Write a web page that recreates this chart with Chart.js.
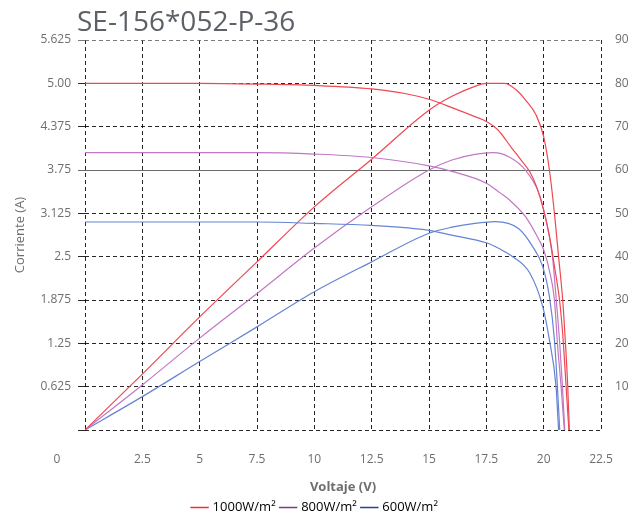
<!DOCTYPE html>
<html>
<head>
<meta charset="utf-8">
<script src="https://cdn.jsdelivr.net/npm/chart.js@4.4.1/dist/chart.umd.min.js"></script>
<style>
  html, body { margin: 0; padding: 0; background: #ffffff; }
  #wrap { position: relative; width: 631px; height: 518px; }
  #title { position: absolute; left: 77px; top: 1px; font-family: "Open Sans", sans-serif; font-size: 28px; color: #5d6167; line-height: normal; white-space: nowrap; }
  canvas { position: absolute; left: 0; top: 0; }
</style>
</head>
<body>
<div id="wrap">
  <canvas id="c" width="631" height="518"></canvas>
  <div id="title">SE-156*052-P-36</div>
</div>
<script>
// ---- Data ----
const seriesNames = ['1000W/m²', '800W/m²', '600W/m²'];

// I-V curves (left axis, Corriente A)
const ivVolt1000 = [0, 2.5, 5, 7.5, 10, 12.5, 14, 15, 16, 17, 17.5, 18, 18.6, 19, 19.4, 19.7, 20, 20.25, 20.5, 20.7, 20.85, 20.98, 21.05, 21.1];
const ivCurr1000 = [5.0, 5.0, 5.0, 4.99, 4.97, 4.92, 4.85, 4.77, 4.65, 4.52, 4.45, 4.33, 4.07, 3.9, 3.72, 3.5, 3.17, 2.8, 2.3, 1.85, 1.3, 0.62, 0.25, 0];

const ivVolt800 = [0, 5, 7.5, 10, 12.5, 15, 16, 17.5, 18.1, 18.5, 19.2, 19.8, 20, 20.25, 20.47, 20.6, 20.76, 20.9];
const ivCurr800 = [4.0, 4.0, 4.0, 3.98, 3.93, 3.81, 3.73, 3.56, 3.42, 3.32, 3.08, 2.74, 2.6, 2.3, 1.875, 1.25, 0.625, 0];

const ivVolt600 = [0, 5, 7.5, 10, 12.5, 15, 16, 17.5, 18.1, 18.65, 19.4, 19.96, 20.25, 20.54, 20.65];
const ivCurr600 = [3.0, 3.0, 3.0, 2.98, 2.95, 2.88, 2.81, 2.70, 2.61, 2.5, 2.26, 1.78, 1.3, 0.625, 0];

// P-V curves (right axis, W)
const pvVolt1000 = [0, 2.5, 5, 7.5, 10, 12.5, 15, 16, 17, 17.5, 18, 18.3, 18.8, 19.2, 19.67, 20, 20.25, 20.47, 20.65, 20.83, 20.95, 21.05, 21.12];
const pvPow1000 = [0, 12.9, 26.1, 38.8, 51.5, 62.5, 73.8, 77, 79.3, 80, 80, 80, 78.5, 76.2, 72.7, 67.7, 60, 50, 40, 30, 20, 10, 0];

const pvVolt800 = [0, 2.5, 5, 7.5, 10, 12.5, 15, 16, 17, 17.8, 18.5, 19.2, 19.8, 20, 20.25, 20.4, 20.55, 20.7, 20.82, 20.92];
const pvPow800 = [0, 10.4, 21.2, 31.5, 42, 51.5, 60, 62.3, 63.6, 64, 63, 60, 54.6, 50.8, 44.6, 39.2, 30, 20, 10, 0];

const pvVolt600 = [0, 2.5, 5, 7.5, 10, 12.5, 15, 16, 17, 17.9, 18.9, 19.5, 19.96, 20.25, 20.47, 20.6, 20.7];
const pvPow600 = [0, 7.7, 15.8, 23.8, 31.9, 38.8, 45.4, 46.8, 47.7, 48.1, 46.5, 42.5, 37.7, 30.8, 20.8, 10, 0];

// Tick labels
const xTickLabels = ['0', '2.5', '5', '7.5', '10', '12.5', '15', '17.5', '20', '22.5'];
const currentTickLabels = ['', '0.625', '1.25', '1.875', '2.5', '3.125', '3.75', '4.375', '5.00', '5.625'];
const powerTickLabels = ['', '10', '20', '30', '40', '50', '60', '70', '80', '90'];

// ---- Build ----
const colors = ['#f04852', '#c078c4', '#6684d2'];
const legendColors = ['#e8303a', '#7e3a8e', '#2a3ea0'];

function pts(xs, ys) { return xs.map((x, i) => ({ x: x, y: ys[i] })); }

const ivSets = [[ivVolt1000, ivCurr1000], [ivVolt800, ivCurr800], [ivVolt600, ivCurr600]];
const pvSets = [[pvVolt1000, pvPow1000], [pvVolt800, pvPow800], [pvVolt600, pvPow600]];

const datasets = [];
ivSets.forEach((s, i) => datasets.push({
  label: seriesNames[i], data: pts(s[0], s[1]), yAxisID: 'y',
  borderColor: colors[i], backgroundColor: legendColors[i], borderWidth: 1.2, pointRadius: 0,
  cubicInterpolationMode: 'monotone', fill: false
}));
pvSets.forEach((s, i) => datasets.push({
  label: seriesNames[i] + ' P', data: pts(s[0], s[1]), yAxisID: 'y1',
  borderColor: colors[i], backgroundColor: legendColors[i], borderWidth: 1.2, pointRadius: 0,
  cubicInterpolationMode: 'monotone', fill: false
}));

const zeroLabel = {
  id: 'zeroLabel',
  afterDraw(chart) {
    const ctx = chart.ctx;
    ctx.save();
    ctx.font = '12px "Open Sans"';
    ctx.fillStyle = '#6e6e6e';
    ctx.textAlign = 'center';
    ctx.textBaseline = 'middle';
    ctx.fillText(xTickLabels[0], 57, chart.chartArea.bottom + 30);
    ctx.restore();
  }
};

Chart.defaults.font.family = '"Open Sans", sans-serif';
Chart.defaults.color = '#6e6e6e';

new Chart(document.getElementById('c'), {
  type: 'line',
  data: { datasets: datasets },
  plugins: [zeroLabel],
  options: {
    responsive: false,
    animation: false,
    layout: { padding: { top: 40, left: 0, right: 0, bottom: -6 } },
    plugins: {
      title: { display: false },
      tooltip: { enabled: false },
      legend: {
        position: 'bottom',
        labels: {
          filter: (item) => item.datasetIndex < 3,
          usePointStyle: true, pointStyle: 'line', boxWidth: 32, padding: 6,
          font: { size: 13 }, color: '#6e6e6e',
          generateLabels: (chart) => seriesNames.map((n, i) => ({
            text: n, strokeStyle: legendColors[i], fillStyle: legendColors[i],
            lineWidth: 1.5, pointStyle: 'line', datasetIndex: i, hidden: false
          }))
        }
      }
    },
    scales: {
      x: {
        type: 'linear', min: 0, max: 22.5,
        afterFit: (s) => { s.height = 65; },
        ticks: { stepSize: 2.5, padding: 2, font: { size: 12 }, color: '#6e6e6e',
          callback: (v, i) => (i === 0 ? '' : xTickLabels[i]) },
        grid: { color: 'rgba(0,0,0,0.85)', lineWidth: 1, tickLength: 20, drawTicks: true, tickColor: 'rgba(0,0,0,0)' },
        border: { display: false, dash: [4, 3] },
        title: { display: true, text: 'Voltaje (V)', font: { size: 13, weight: 'bold' }, color: '#6e6e6e', padding: { top: 8, bottom: 0 } }
      },
      y: {
        position: 'left', min: 0, max: 5.625,
        afterFit: (s) => { s.width = 85; },
        ticks: { stepSize: 0.625, padding: 7, font: { size: 12 }, color: '#6e6e6e',
          callback: (v, i) => currentTickLabels[i] },
        grid: {
          color: (ctx) => (ctx.index === 6 ? '#6a6a6a' : (ctx.index === 9 ? 'rgba(90,90,90,0.8)' : 'rgba(0,0,0,0.85)')),
          lineWidth: 1, tickLength: 7
        },
        border: { display: false, dash: (ctx) => (ctx.index === 6 ? [] : [4, 3]) },
        title: { display: true, text: 'Corriente (A)', font: { size: 13 }, color: '#6e6e6e', padding: { top: 12, bottom: 0 } }
      },
      y1: {
        position: 'right', min: 0, max: 90,
        afterFit: (s) => { s.width = 30; },
        ticks: { stepSize: 10, padding: 14, font: { size: 12 }, color: '#6e6e6e',
          callback: (v, i) => powerTickLabels[i] },
        grid: { display: false, drawTicks: false },
        border: { display: false }
      }
    }
  }
});
</script>
</body>
</html>
